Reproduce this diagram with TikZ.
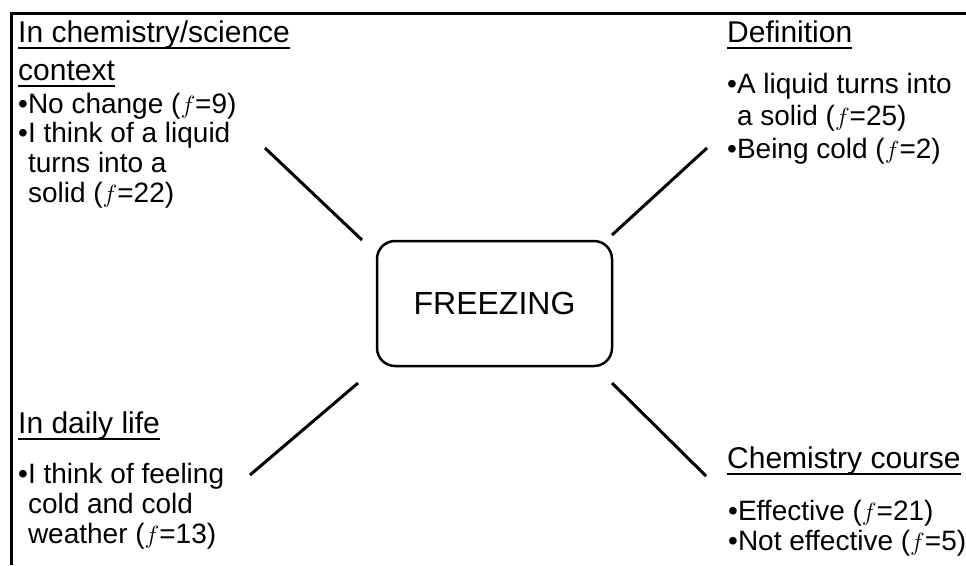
\documentclass[tikz,border=0pt]{standalone}
\usepackage{fontspec}
\setmainfont{Liberation Sans}
\newcommand{\headul}[1]{\setbox0=\hbox{#1}\rlap{\rule[-7pt]{\wd0}{2pt}}\box0}
\newcommand{\hang}{\phantom{\textbullet}}
\begin{document}
\begin{tikzpicture}[x=1pt,y=-1pt,
	head/.style={anchor=base west,inner sep=0pt,font=\fontsize{30}{34}\selectfont},
	item/.style={anchor=base west,inner sep=0pt,font=\fontsize{28}{32}\selectfont},
	spoke/.style={line width=3pt}]
		\useasboundingbox (0,0) rectangle (966,565);
		% frame
		\draw[line width=3pt] (11.5,565) -- (11.5,13.5) -- (966,13.5);

		% centre box
		\node[draw,line width=2.5pt,rounded corners=18pt,minimum width=235pt,minimum height=125pt,font=\fontsize{32}{36}\selectfont] (freezing) at (494.5,303.5) {FREEZING};

		\node[head] (sci1) at (18,42) {\headul{In chemistry/science}};
		\node[head] (sci2) at (18,80) {\headul{context}};
		\node[item] (sci3) at (18,113) {\textbullet No change ($f$=9)};
		\node[item] (sci4) at (18,142) {\textbullet I think of a liquid};
		\node[item] (sci5) at (18,172) {\hang turns into a};
		\node[item] (sci6) at (18,202) {\hang solid ($f$=22)};

		\node[head] (def1) at (727,42) {\headul{Definition}};
		\node[item] (def2) at (727,93) {\textbullet A liquid turns into};
		\node[item] (def3) at (727,125) {\hang a solid ($f$=25)};
		\node[item] (def4) at (727,158) {\textbullet Being cold ($f$=2)};

		\node[head] (life1) at (18,433) {\headul{In daily life}};
		\node[item] (life2) at (18,483) {\textbullet I think of feeling};
		\node[item] (life3) at (18,513) {\hang cold and cold};
		\node[item] (life4) at (18,543) {\hang weather ($f$=13)};

		\node[head] (course1) at (727,468) {\headul{Chemistry course}};
		\node[item] (course2) at (728,520) {\textbullet Effective ($f$=21)};
		\node[item] (course3) at (728,550) {\textbullet Not effective ($f$=5)};

		% spokes
		\coordinate (sci-end) at (265,148);
		\coordinate (def-end) at (707,148);
		\coordinate (life-end) at (250,475);
		\coordinate (course-end) at (706,476);
		\coordinate (sci-start) at (362,240);
		\coordinate (def-start) at (612,235);
		\coordinate (life-start) at (358,383);
		\coordinate (course-start) at (612,383);
		\draw[spoke] (sci-start) -- (sci-end);
		\draw[spoke] (def-start) -- (def-end);
		\draw[spoke] (life-start) -- (life-end);
		\draw[spoke] (course-start) -- (course-end);
	\end{tikzpicture}
\end{document}
